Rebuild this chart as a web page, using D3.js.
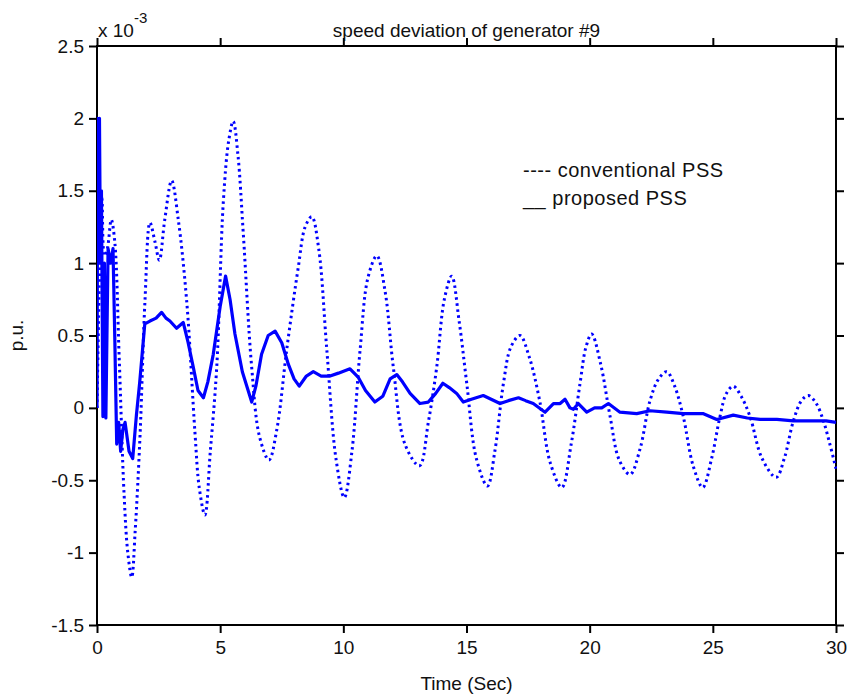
<!DOCTYPE html>
<html>
<head>
<meta charset="utf-8">
<script src="https://cdn.jsdelivr.net/npm/d3@7"></script>
<style>
  body { margin: 0; background: #fff; }
  svg text { font-family: "Liberation Sans", Arial, sans-serif; fill: #111; }
</style>
</head>
<body>
<div id="chart"></div>
<script>
// conventional PSS (dotted) - time in s, value in 1e-3 p.u.
const convT = [0, 0.1, 0.2, 0.3, 0.42, 0.58, 0.72, 0.9, 1.1, 1.25, 1.41, 1.55, 1.75, 1.95, 2.15, 2.35, 2.53, 2.75, 3.03, 3.3,
  3.64, 3.98, 4.15, 4.38, 4.6, 4.86, 5.13, 5.35, 5.53, 5.72, 5.94, 6.28, 6.6, 6.98, 7.3, 7.7, 8.17, 8.45, 8.72, 9.0,
  9.33, 9.7, 10.04, 10.35, 10.68, 11.0, 11.36, 11.7, 12.03, 12.5, 13.09, 13.45, 13.79, 14.1, 14.4, 14.7, 15.01, 15.4, 15.85, 16.15,
  16.5, 16.8, 17.17, 17.55, 17.97, 18.4, 18.87, 19.25, 19.61, 19.85, 20.08, 20.45, 20.83, 21.2, 21.64, 22.05, 22.45, 22.8, 23.13, 23.45,
  23.8, 24.2, 24.59, 24.95, 25.29, 25.55, 25.83, 26.15, 26.51, 27.0, 27.57, 27.9, 28.27, 28.6, 28.88, 29.2, 29.49, 29.75, 30]
const convV = [0, 0.9, 1.45, 1.05, 1.1, 1.3, 1.15, 0.35, -0.6, -1.0, -1.17, -0.85, -0.18, 0.75, 1.28, 1.15, 1.02, 1.3, 1.57, 1.3,
  0.74, -0.18, -0.55, -0.74, -0.3, 0.28, 1.43, 1.85, 1.98, 1.75, 1.2, 0.28, -0.2, -0.36, -0.15, 0.4, 0.97, 1.25, 1.32, 1.1,
  0.4, -0.35, -0.62, -0.3, 0.4, 0.9, 1.05, 0.8, 0.28, -0.25, -0.4, -0.1, 0.28, 0.75, 0.91, 0.6, 0.17, -0.35, -0.54, -0.3,
  0.17, 0.42, 0.5, 0.35, 0.05, -0.38, -0.55, -0.25, 0.17, 0.42, 0.51, 0.3, -0.06, -0.36, -0.46, -0.28, 0.05, 0.2, 0.25, 0.15,
  -0.06, -0.4, -0.55, -0.35, -0.06, 0.1, 0.15, 0.08, -0.06, -0.35, -0.48, -0.35, -0.09, 0.05, 0.085, 0.03, -0.09, -0.25, -0.42]

// proposed PSS (solid)
const propT = [0, 0.03, 0.06, 0.1, 0.14, 0.18, 0.24, 0.3, 0.36, 0.45, 0.55, 0.65, 0.72, 0.8, 0.88, 0.96, 1.05, 1.14, 1.3, 1.45,
  1.6, 1.73, 1.94, 2.15, 2.4, 2.62, 2.8, 2.96, 3.23, 3.5, 3.7, 3.91, 4.1, 4.32, 4.5, 4.72, 5.0, 5.22, 5.4, 5.6,
  5.9, 6.28, 6.45, 6.68, 6.95, 7.23, 7.5, 7.77, 8.0, 8.21, 8.5, 8.78, 9.1, 9.46, 9.8, 10.27, 10.61, 10.9, 11.28, 11.6,
  11.9, 12.17, 12.4, 12.71, 13.11, 13.45, 13.75, 14.04, 14.3, 14.6, 14.87, 15.2, 15.68, 16.0, 16.36, 16.7, 17.11, 17.4, 17.71, 18.19,
  18.53, 18.8, 19.0, 19.2, 19.34, 19.54, 19.88, 20.2, 20.49, 20.76, 21.23, 21.91, 22.45, 23.13, 23.8, 24.62, 25.16, 25.83, 26.4, 26.92,
  27.6, 28.27, 29.08, 29.6, 30]
const propV = [0, 2.0, 1.0, 2.0, 1.0, 1.5, -0.06, 1.0, -0.07, 1.1, 1.0, 1.1, 0.5, -0.25, -0.1, -0.3, -0.15, -0.1, -0.3, -0.35,
  -0.05, 0.17, 0.58, 0.6, 0.62, 0.66, 0.62, 0.6, 0.55, 0.59, 0.45, 0.28, 0.12, 0.07, 0.18, 0.37, 0.7, 0.91, 0.75, 0.51,
  0.25, 0.04, 0.15, 0.37, 0.5, 0.53, 0.45, 0.3, 0.2, 0.15, 0.22, 0.25, 0.22, 0.22, 0.24, 0.27, 0.21, 0.12, 0.04, 0.08,
  0.2, 0.23, 0.18, 0.1, 0.03, 0.04, 0.1, 0.17, 0.14, 0.1, 0.04, 0.06, 0.085, 0.06, 0.03, 0.05, 0.07, 0.05, 0.03, -0.03,
  0.03, 0.03, 0.06, 0.0, -0.01, 0.03, -0.03, 0.0, 0.0, 0.03, -0.03, -0.04, -0.02, -0.03, -0.04, -0.04, -0.08, -0.05, -0.07, -0.08,
  -0.08, -0.09, -0.09, -0.09, -0.1]

const xTicks = [0, 5, 10, 15, 20, 25, 30]
const yTicks = [-1.5, -1, -0.5, 0, 0.5, 1, 1.5, 2, 2.5]

const titleText = 'speed deviation of generator #9'
const xLabel = 'Time (Sec)'
const yLabel = 'p.u.'
const legendItems = ['---- conventional PSS', '__ proposed PSS']

const svgWidth = 851
const svgHeight = 700
const margin = { left: 97, right: 15, top: 46, bottom: 75 }
const width = svgWidth - margin.left - margin.right
const height = svgHeight - margin.top - margin.bottom

const svg = d3.select('#chart')
  .append('svg')
  .attr('width', svgWidth)
  .attr('height', svgHeight)

const g = svg.append('g')
  .attr('transform', `translate(${margin.left},${margin.top})`)

// scales
const xScale = d3.scaleLinear().domain([0, 30]).range([0, width])
const yScale = d3.scaleLinear().domain([-1.5, 2.5]).range([height, 0])

// axes, ticks outward on all four sides
const tickSize = 8
const fmt = d => String(d)

g.append('g')
  .attr('class', 'axis')
  .attr('transform', `translate(0,${height})`)
  .call(d3.axisBottom(xScale).tickValues(xTicks).tickFormat(fmt).tickSizeInner(tickSize).tickSizeOuter(0).tickPadding(8))

g.append('g')
  .attr('class', 'axis')
  .call(d3.axisTop(xScale).tickValues(xTicks).tickFormat('').tickSizeInner(tickSize).tickSizeOuter(0))

g.append('g')
  .attr('class', 'axis')
  .call(d3.axisLeft(yScale).tickValues(yTicks).tickFormat(fmt).tickSizeInner(tickSize).tickSizeOuter(0).tickPadding(5))

g.append('g')
  .attr('class', 'axis')
  .attr('transform', `translate(${width},0)`)
  .call(d3.axisRight(yScale).tickValues(yTicks).tickFormat('').tickSizeInner(tickSize).tickSizeOuter(0))

g.selectAll('.axis .domain').remove()
g.selectAll('.axis line').attr('stroke', '#000').attr('stroke-width', 2)
g.selectAll('.axis text').attr('font-size', 19).attr('fill', '#111')
  .style('font-family', '"Liberation Sans", Arial, sans-serif')

// box
g.append('rect')
  .attr('width', width)
  .attr('height', height)
  .attr('fill', 'none')
  .attr('stroke', '#000')
  .attr('stroke-width', 2)

// lines
const clip = g.append('clipPath').attr('id', 'clip')
  .append('rect').attr('x', 0).attr('y', -2).attr('width', width + 1).attr('height', height + 4)

const convData = convT.map((t, i) => [t, convV[i]])
const propData = propT.map((t, i) => [t, propV[i]])

const convLine = d3.line()
  .x(d => xScale(d[0]))
  .y(d => yScale(d[1]))
  .curve(d3.curveCatmullRom.alpha(0.5))

const propLine = d3.line()
  .x(d => xScale(d[0]))
  .y(d => yScale(d[1]))
  .curve(d3.curveLinear)

g.append('path')
  .datum(convData)
  .attr('clip-path', 'url(#clip)')
  .attr('d', convLine)
  .attr('fill', 'none')
  .attr('stroke', '#0000ff')
  .attr('stroke-width', 3)
  .attr('stroke-dasharray', '2.5,3.5')

g.append('path')
  .datum(propData)
  .attr('clip-path', 'url(#clip)')
  .attr('d', propLine)
  .attr('fill', 'none')
  .attr('stroke', '#0000ff')
  .attr('stroke-width', 3.2)
  .attr('stroke-linejoin', 'round')

// title and labels
svg.append('text')
  .text(titleText)
  .attr('x', margin.left + width / 2)
  .attr('y', 37)
  .attr('text-anchor', 'middle')
  .attr('font-size', 19)

const expo = svg.append('text')
  .attr('x', 98)
  .attr('y', 37)
  .attr('font-size', 19)
expo.append('tspan').text('x 10')
expo.append('tspan').text('-3').attr('dy', -14).attr('font-size', 15)

svg.append('text')
  .text(xLabel)
  .attr('x', margin.left + width / 2)
  .attr('y', 690)
  .attr('text-anchor', 'middle')
  .attr('font-size', 19)

svg.append('text')
  .text(yLabel)
  .attr('text-anchor', 'middle')
  .attr('font-size', 19)
  .attr('transform', `translate(23,${margin.top + height / 2}) rotate(-90)`)

// legend
svg.selectAll('.legend')
  .data(legendItems)
  .join('text')
  .attr('class', 'legend')
  .text(d => d)
  .attr('x', 523)
  .attr('y', (d, i) => 177 + i * 28)
  .attr('font-size', 20)
  .attr('letter-spacing', 0.5)
</script>
</body>
</html>
